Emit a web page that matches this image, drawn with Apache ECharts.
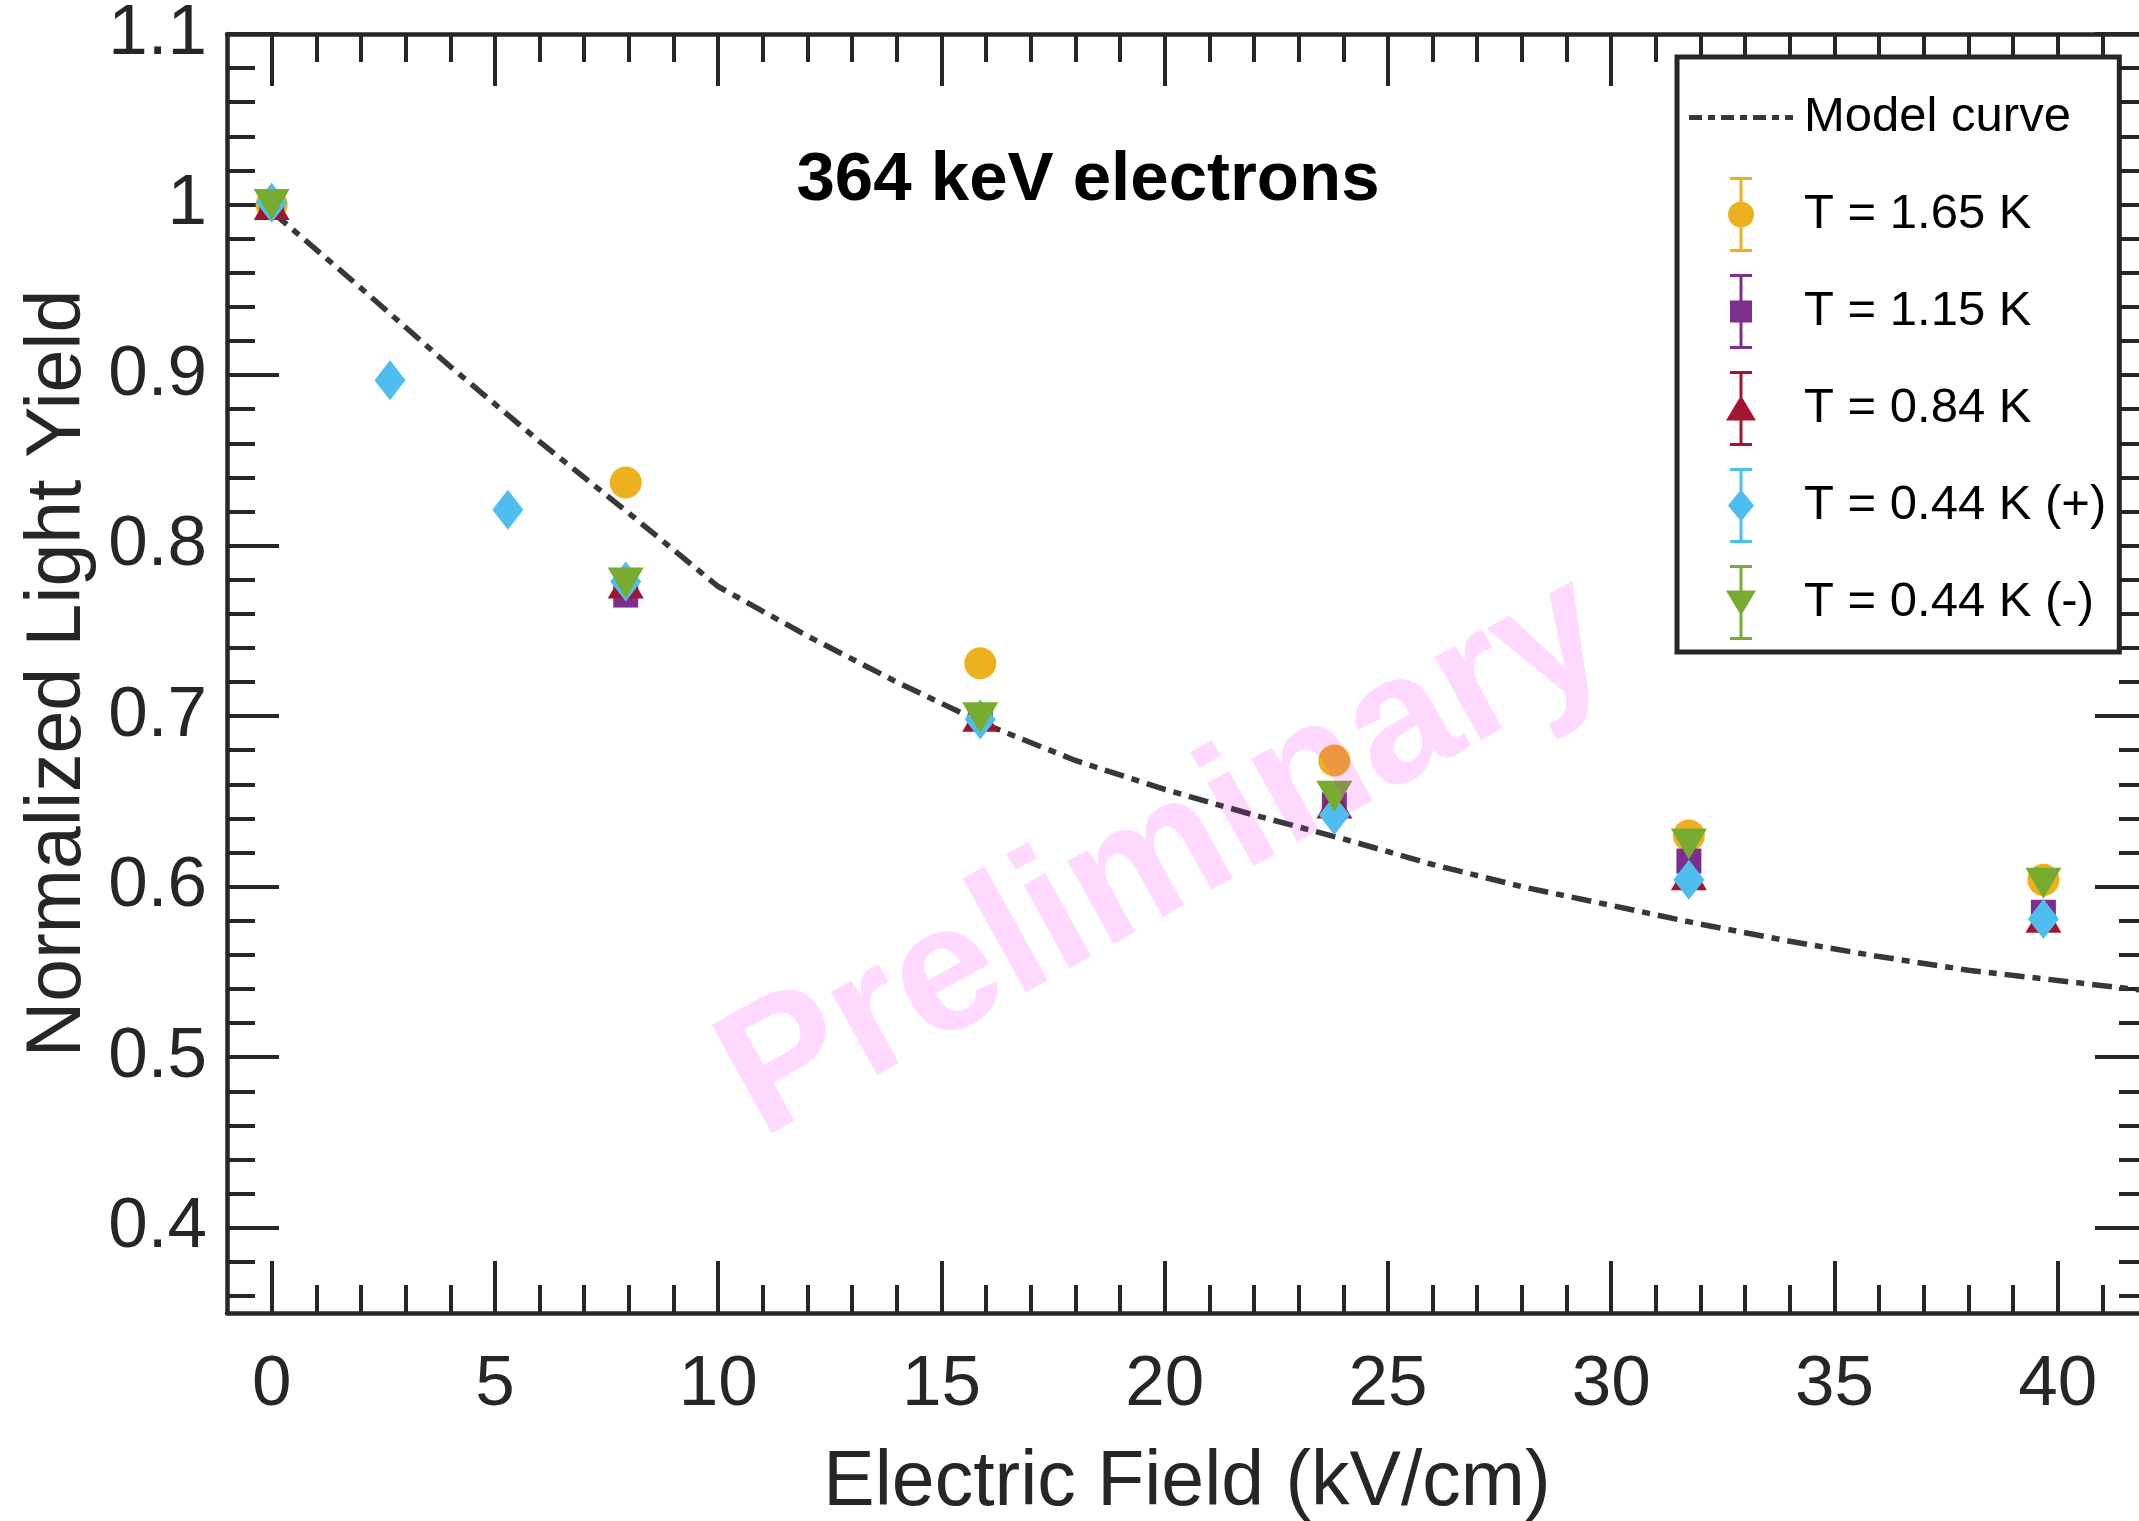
<!DOCTYPE html>
<html>
<head>
<meta charset="utf-8">
<script src="https://cdn.jsdelivr.net/npm/echarts@6/dist/echarts.min.js"></script>
<style>
html,body{margin:0;padding:0;background:#ffffff;}
#chart{width:2139px;height:1521px;}
</style>
</head>
<body>
<div id="chart"></div>
<script>
const FONT = '"Liberation Sans", Arial, Helvetica, sans-serif';

// ---- data ----
const fields      = [0, 7.93, 15.87, 23.8, 31.74, 39.68];
const fieldsPlus  = [0, 2.65, 5.29, 7.93, 15.87, 23.8, 31.74, 39.68];
const yield165    = [1.000, 0.837, 0.731, 0.674, 0.630, 0.604];
const yield115    = [1.000, 0.771, 0.699, 0.648, 0.615, 0.585];
const yield084    = [1.000, 0.778, 0.700, 0.649, 0.607, 0.582];
const yield044p   = [1.001, 0.897, 0.821, 0.779, 0.698, 0.642, 0.604, 0.581];
const yield044m   = [1.000, 0.778, 0.699, 0.653, 0.625, 0.602];
const modelX      = [0, 2, 4, 6, 8, 10, 12, 14, 16, 18, 20, 22, 24, 26, 28, 30, 32, 34, 36, 38, 40, 42];
const modelY      = [0.996, 0.951, 0.905, 0.861, 0.819, 0.776, 0.747, 0.720, 0.695, 0.674, 0.657, 0.642, 0.628, 0.613, 0.600, 0.589, 0.578, 0.568, 0.559, 0.551, 0.545, 0.539];

// ---- ticks / labels ----
const xMajor = [0, 5, 10, 15, 20, 25, 30, 35, 40];
const xMinor = [1,2,3,4,6,7,8,9,11,12,13,14,16,17,18,19,21,22,23,24,26,27,28,29,31,32,33,34,36,37,38,39,41];
const yMajor = [0.4, 0.5, 0.6, 0.7, 0.8, 0.9, 1, 1.1];
const yMinor = [0.36,0.38,0.42,0.44,0.46,0.48,0.52,0.54,0.56,0.58,0.62,0.64,0.66,0.68,0.72,0.74,0.76,0.78,0.82,0.84,0.86,0.88,0.92,0.94,0.96,0.98,1.02,1.04,1.06,1.08];

const seriesNames = ['Model curve', 'T = 1.65 K', 'T = 1.15 K', 'T = 0.84 K', 'T = 0.44 K (+)', 'T = 0.44 K (-)'];
const colors = ['#383838', '#EDB120', '#7E2F8E', '#A2142F', '#4DBEEE', '#77AC30'];

function pairs(xs, ys) { return xs.map((x, i) => [x, ys[i]]); }

const AX = '#262626';
const XMIN = -1, XMAX = 42, YMIN = 0.35, YMAX = 1.1;

function makeAxis(kind, pos, ticks, len, showLine, labels, extra) {
  const a = {
    type: 'value', min: kind === 'x' ? XMIN : YMIN, max: kind === 'x' ? XMAX : YMAX,
    position: pos,
    axisLine: { show: showLine, onZero: false, lineStyle: { color: AX, width: 4.5 } },
    axisTick: { show: true, inside: true, length: len, customValues: ticks, lineStyle: { color: AX, width: 4 } },
    axisLabel: labels ? {
      show: true, customValues: labels, fontSize: 71, color: AX, fontFamily: FONT,
      margin: kind === 'x' ? 37 : 20, padding: kind === 'x' ? 0 : [8, 0, 0, 0]
    } : { show: false },
    splitLine: { show: false },
    minorTick: { show: false }
  };
  return Object.assign(a, extra || {});
}

// legend icons: marker + error bar (paths, same winding)
const bar = 'M -1.5 0 H 1.5 V 75 H -1.5 Z M -11 0 H 11 V 3 H -11 Z M -11 72 H 11 V 75 H -11 Z ';
const iconCircle = 'path://' + bar + 'M -13 37.5 A 13 13 0 1 1 13 37.5 A 13 13 0 1 1 -13 37.5 Z';
const iconSquare = 'path://' + bar + 'M -11 26.5 H 11 V 48.5 H -11 Z';
const iconTriUp  = 'path://' + bar + 'M 0 24.5 L 15 49.5 L -15 49.5 Z';
const iconDiamond= 'path://' + bar + 'M 0 21.5 L 13 37.5 L 0 53.5 L -13 37.5 Z';
const iconTriDn  = 'path://' + bar + 'M -15 25.5 L 15 25.5 L 0 50.5 Z';
// dashed sample; two 0.01px specks only stretch the box to the 75px item height
const iconModel  = 'path://M 52 -35 H 52.01 V -34.99 H 52 Z M 52 39.99 H 52.01 V 40 H 52 Z ' +
  'M 0 0 H 13 V 5 H 0 Z M 19 0 H 26 V 5 H 19 Z M 32 0 H 45 V 5 H 32 Z M 51 0 H 58 V 5 H 51 Z M 64 0 H 77 V 5 H 64 Z M 83 0 H 90 V 5 H 83 Z M 96 0 H 104 V 5 H 96 Z';

const dashType = [20, 8, 8, 8];

const option = {
  animation: false,
  backgroundColor: '#ffffff',
  grid: { left: 227, top: 34, width: 1920, height: 1279, containLabel: false, outerBoundsMode: 'none' },
  xAxis: [
    makeAxis('x', 'bottom', xMajor, 52, true, xMajor, {
      name: 'Electric Field (kV/cm)', nameLocation: 'middle', nameGap: 132,
      nameTextStyle: { fontSize: 77, color: AX, fontFamily: FONT }
    }),
    makeAxis('x', 'bottom', xMinor, 28, false, null),
    makeAxis('x', 'top', xMajor, 52, true, null),
    makeAxis('x', 'top', xMinor, 28, false, null)
  ],
  yAxis: [
    makeAxis('y', 'left', yMajor, 52, true, yMajor, {
      name: 'Normalized Light Yield', nameLocation: 'middle', nameGap: 128,
      nameTextStyle: { fontSize: 77, color: AX, fontFamily: FONT }
    }),
    makeAxis('y', 'left', yMinor, 28, false, null),
    makeAxis('y', 'right', yMajor, 52, true, null),
    makeAxis('y', 'right', yMinor, 28, false, null)
  ],
  legend: {
    orient: 'vertical', left: 1677, top: 57,
    padding: [23, 13, 12, 12],
    itemWidth: 104, itemHeight: 75, itemGap: 22,
    backgroundColor: '#ffffff', borderColor: AX, borderWidth: 5, borderRadius: 0,
    selectedMode: false,
    textStyle: { fontFamily: FONT, fontSize: 49, color: '#000', padding: [0, 0, 0, 6] },
    data: [
      { name: seriesNames[0], icon: iconModel, itemStyle: { color: colors[0] } },
      { name: seriesNames[1], icon: iconCircle },
      { name: seriesNames[2], icon: iconSquare },
      { name: seriesNames[3], icon: iconTriUp },
      { name: seriesNames[4], icon: iconDiamond },
      { name: seriesNames[5], icon: iconTriDn }
    ]
  },
  series: [
    {
      name: seriesNames[0], type: 'line', xAxisIndex: 0, yAxisIndex: 0,
      data: pairs(modelX, modelY), symbol: 'none', showSymbol: false, smooth: false,
      lineStyle: { color: colors[0], width: 5.5, type: dashType },
      itemStyle: { color: colors[0] }, z: 2
    },
    {
      name: seriesNames[1], type: 'scatter', data: pairs(fields, yield165),
      symbol: 'circle', symbolSize: 32, itemStyle: { color: colors[1], opacity: 1 }, z: 3
    },
    {
      name: seriesNames[2], type: 'scatter', data: pairs(fields, yield115),
      symbol: 'rect', symbolSize: 25, itemStyle: { color: colors[2], opacity: 1 }, z: 3
    },
    {
      name: seriesNames[3], type: 'scatter', data: pairs(fields, yield084),
      symbol: 'triangle', symbolSize: [36, 31], itemStyle: { color: colors[3], opacity: 1 }, z: 3
    },
    {
      name: seriesNames[4], type: 'scatter', data: pairs(fieldsPlus, yield044p),
      symbol: 'diamond', symbolSize: [31, 40], itemStyle: { color: colors[4], opacity: 1 }, z: 3
    },
    {
      name: seriesNames[5], type: 'scatter', data: pairs(fields, yield044m),
      symbol: 'triangle', symbolRotate: 180, symbolSize: [36, 31], itemStyle: { color: colors[5], opacity: 1 }, z: 3
    }
  ],
  graphic: [
    {
      type: 'text', x: 1088, y: 181, z: 50, silent: true,
      style: { text: '364 keV electrons', fontFamily: FONT, fontWeight: 'bold', fontSize: 69, fill: '#000', align: 'center', verticalAlign: 'middle' }
    },
    {
      type: 'text', x: 1166, y: 858, rotation: 29 * Math.PI / 180, z: 100, silent: true,
      style: { text: 'Preliminary', fontFamily: FONT, fontWeight: 'bold', fontSize: 180, fill: 'rgba(255,0,255,0.15)', align: 'center', verticalAlign: 'middle' }
    }
  ]
};

const chart = echarts.init(document.getElementById('chart'), null, { renderer: 'canvas', width: 2139, height: 1521 });
chart.setOption(option);
</script>
</body>
</html>
